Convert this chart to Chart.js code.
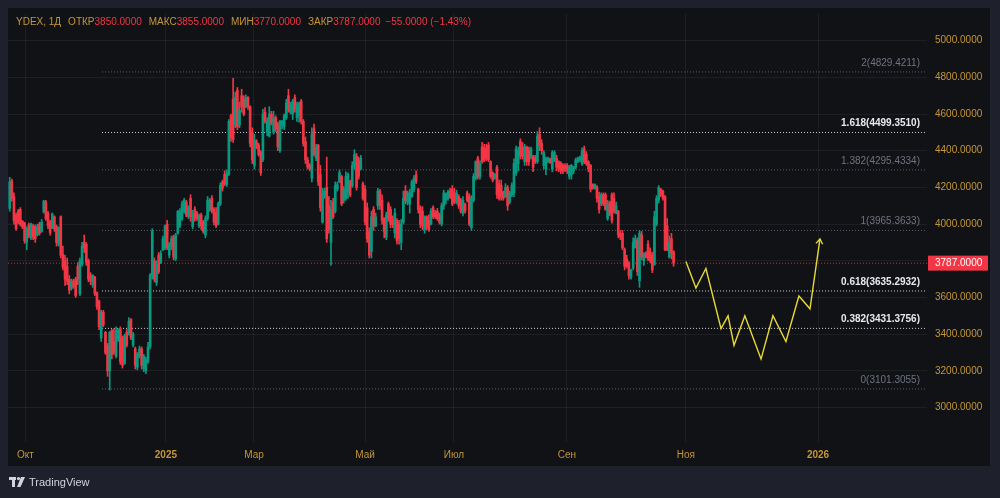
<!DOCTYPE html>
<html>
<head>
<meta charset="utf-8">
<script src="https://cdn.jsdelivr.net/npm/chart.js@4.4.0/dist/chart.umd.min.js"></script>
<style>
html, body { margin: 0; padding: 0; background: #1e212b; }
canvas { display: block; }
</style>
</head>
<body>
<canvas id="chart" width="1000" height="498"></canvas>
<script>
// Дневные свечи YDEX: [open, high, low, close]
const ohlc = [
  [4085,4255,4070,4230],[4235,4245,4125,4140],[4150,4170,4000,4020],[4050,4060,3965,3975],
  [4070,4080,4000,4010],[4080,4090,3990,4000],[4015,4020,3975,3985],[4005,4010,3895,3910],
  [3900,3985,3860,3975],[3995,4005,3925,3935],[3925,4005,3915,4000],[3990,4000,3915,3930],
  [3985,3995,3900,3920],[3940,4000,3935,3985],[4000,4010,3940,3950],[3960,4025,3955,4010],
  [4065,4130,4060,4125],[4120,4130,4020,4030],[4060,4070,3975,3990],[4010,4020,3940,3955],
  [3980,4060,3975,4055],[4040,4045,3960,3975],[3985,3995,3880,3900],[3890,3985,3880,3975],
  [4040,4045,3815,3830],[3835,3880,3750,3765],[3800,3830,3665,3700],[3770,3815,3670,3690],
  [3700,3720,3620,3640],[3650,3700,3640,3690],[3690,3700,3650,3660],[3700,3710,3600,3610],
  [3770,3790,3670,3700],[3620,3815,3610,3800],[3780,3900,3770,3880],[3900,3940,3845,3870],
  [3890,3900,3775,3790],[3800,3810,3685,3700],[3720,3735,3670,3690],[3670,3725,3655,3720],
  [3710,3715,3610,3620],[3625,3630,3535,3550],[3580,3585,3425,3440],[3380,3530,3360,3520],
  [3520,3530,3440,3450],[3410,3415,3290,3300],[3340,3350,3170,3200],[3200,3415,3095,3410],
  [3420,3425,3265,3290],[3360,3430,3290,3300],[3280,3440,3270,3420],[3370,3430,3360,3420],
  [3430,3440,3235,3250],[3380,3390,3215,3230],[3240,3400,3235,3390],[3410,3425,3330,3340],
  [3400,3490,3395,3470],[3480,3485,3370,3380],[3340,3410,3330,3400],[3320,3330,3210,3230],
  [3220,3300,3205,3290],[3280,3335,3270,3320],[3320,3330,3210,3230],[3210,3290,3195,3280],
  [3200,3275,3185,3260],[3250,3355,3240,3330],[3330,3730,3320,3720],[3720,3975,3700,3960],
  [3800,3815,3685,3700],[3680,3800,3665,3780],[3830,3845,3730,3740],[3790,3855,3785,3840],
  [3860,3935,3855,3920],[3870,3995,3860,3990],[4000,4020,3860,3870],[3830,3900,3815,3890],
  [3880,3935,3860,3920],[3930,3940,3805,3820],[3810,3950,3800,3940],[3950,4075,3945,4070],
  [3990,4085,3980,4070],[4030,4125,4020,4110],[4070,4140,4060,4130],[4120,4130,4040,4050],
  [4040,4100,4030,4090],[4140,4160,4015,4040],[3985,4075,3975,4060],[4080,4095,4015,4030],
  [4060,4070,4020,4030],[3990,4055,3980,4045],[4050,4060,3970,3990],[4010,4020,3950,3960],
  [3940,4045,3925,4030],[4030,4150,4020,4130],[4080,4140,4070,4130],[4140,4155,4060,4070],
  [4080,4090,3995,4010],[4060,4090,3980,3990],[4000,4120,3995,4110],[4110,4225,4100,4210],
  [4230,4240,4180,4195],[4270,4290,4210,4220],[4215,4295,4205,4275],[4270,4570,4265,4560],
  [4590,4600,4450,4470],[4680,4795,4445,4460],[4540,4720,4525,4690],[4730,4745,4515,4530],
  [4540,4665,4525,4620],[4700,4735,4610,4640],[4680,4700,4590,4600],[4640,4705,4635,4690],
  [4690,4695,4625,4640],[4640,4645,4420,4440],[4500,4525,4330,4350],[4320,4490,4300,4460],
  [4450,4460,4410,4420],[4430,4440,4370,4380],[4390,4400,4265,4280],[4350,4625,4340,4600],
  [4610,4635,4550,4560],[4500,4580,4480,4560],[4480,4640,4475,4600],[4600,4615,4540,4550],
  [4500,4615,4490,4580],[4580,4590,4505,4520],[4540,4555,4400,4420],[4400,4565,4390,4560],
  [4540,4565,4520,4560],[4530,4600,4515,4590],[4580,4680,4570,4660],[4700,4735,4610,4620],
  [4610,4665,4600,4650],[4600,4680,4570,4670],[4690,4705,4610,4630],[4580,4665,4560,4650],
  [4590,4665,4555,4660],[4670,4680,4545,4560],[4560,4570,4425,4440],[4450,4475,4330,4350],
  [4350,4365,4300,4310],[4320,4330,4290,4300],[4250,4525,4230,4490],[4520,4545,4370,4380],
  [4360,4435,4345,4420],[4430,4435,4210,4230],[4270,4320,4070,4090],[4010,4195,4005,4170],
  [4150,4195,4140,4180],[4200,4365,3900,3920],[4100,4150,3950,3970],[3900,4130,3775,4080],
  [4120,4140,4030,4040],[4070,4230,4060,4210],[4190,4230,4180,4215],[4230,4295,4225,4280],
  [4260,4265,4100,4110],[4130,4205,4115,4190],[4140,4285,4130,4260],[4170,4280,4140,4270],
  [4230,4240,4150,4160],[4210,4340,4200,4320],[4320,4405,4300,4380],[4370,4385,4185,4200],
  [4350,4365,4245,4260],[4300,4375,4295,4360],[4220,4230,4130,4140],[4190,4210,3995,4010],
  [4090,4115,3900,3920],[3960,3980,3815,3830],[3850,4070,3815,4040],[4080,4095,3965,3990],
  [3990,4060,3985,4040],[4100,4195,4080,4180],[4180,4190,4080,4100],[4130,4160,4000,4020],
  [4030,4035,3925,3960],[3930,4065,3915,4050],[4110,4120,4015,4030],[4080,4095,3980,4000],
  [4030,4045,3980,3995],[3950,4085,3925,4060],[4020,4030,3890,3910],[4000,4020,3890,3920],
  [3900,4025,3860,4000],[4010,4180,4000,4140],[4180,4210,4110,4130],[4120,4180,4105,4170],
  [4110,4190,4060,4170],[4150,4240,4145,4230],[4190,4265,4175,4250],[4270,4290,4220,4230],
  [4190,4195,4060,4080],[4090,4100,3980,4000],[4070,4095,3970,3990],[3970,4045,3950,4040],
  [4040,4045,3970,3985],[4020,4050,3960,3970],[4000,4085,3995,4070],[4090,4100,4030,4040],
  [4060,4075,4030,4040],[4070,4085,4020,4030],[4050,4060,4000,4010],[4000,4115,3990,4100],
  [4100,4185,4080,4170],[4130,4170,4110,4160],[4140,4185,4130,4175],[4180,4195,4140,4150],
  [4190,4210,4100,4110],[4170,4195,4110,4120],[4120,4185,4110,4170],[4150,4160,4085,4100],
  [4130,4140,4060,4070],[4060,4150,4045,4130],[4110,4115,4060,4070],[4170,4180,4120,4130],
  [4150,4165,3990,4000],[3980,4155,3965,4140],[4130,4275,4120,4260],[4250,4345,4240,4340],
  [4360,4370,4245,4260],[4260,4345,4245,4330],[4420,4445,4330,4340],[4420,4435,4340,4350],
  [4410,4435,4345,4360],[4430,4445,4340,4350],[4340,4345,4250,4260],[4280,4285,4230,4240],
  [4255,4275,4245,4270],[4310,4320,4140,4160],[4220,4240,4130,4140],[4210,4240,4130,4150],
  [4175,4180,4130,4140],[4150,4220,4145,4200],[4200,4210,4075,4100],[4120,4180,4110,4170],
  [4160,4225,4150,4210],[4170,4355,4150,4330],[4280,4425,4265,4410],[4330,4420,4290,4400],
  [4450,4465,4355,4370],[4420,4445,4355,4370],[4340,4435,4320,4420],[4420,4425,4320,4340],
  [4400,4420,4320,4340],[4370,4420,4355,4410],[4370,4375,4285,4310],[4360,4375,4330,4340],
  [4340,4505,4330,4480],[4490,4525,4400,4430],[4440,4460,4380,4400],[4320,4400,4300,4390],
  [4300,4365,4270,4360],[4340,4365,4335,4360],[4355,4360,4330,4335],[4300,4400,4285,4390],
  [4350,4400,4340,4390],[4360,4375,4290,4310],[4340,4345,4285,4300],[4330,4340,4275,4290],
  [4320,4330,4275,4290],[4320,4330,4285,4300],[4320,4330,4275,4290],[4260,4320,4245,4310],
  [4270,4325,4245,4320],[4290,4315,4275,4310],[4310,4360,4300,4350],[4340,4365,4335,4360],
  [4350,4370,4340,4365],[4330,4415,4320,4400],[4410,4425,4330,4340],[4380,4395,4320,4330],
  [4340,4345,4285,4300],[4320,4325,4175,4190],[4215,4220,4190,4195],[4195,4220,4190,4215],
  [4200,4210,4120,4140],[4150,4175,4060,4080],[4110,4170,4100,4160],[4160,4170,4100,4110],
  [4160,4170,4075,4080],[4030,4130,4020,4110],[4120,4125,4045,4060],[4160,4170,4005,4020],
  [4140,4170,4060,4070],[4060,4120,4055,4100],[4070,4075,3925,3940],[3950,3965,3915,3930],
  [3950,3965,3860,3870],[3860,3870,3750,3770],[3810,3830,3760,3770],[3790,3795,3700,3720],
  [3710,3755,3700,3750],[3760,3925,3750,3900],[3870,3940,3870,3920],[3910,3925,3720,3740],
  [3690,3965,3655,3950],[3940,3960,3805,3820],[3800,3845,3775,3840],[3840,3850,3815,3820],
  [3890,3910,3800,3810],[3850,3870,3790,3800],[3830,3845,3735,3750],[3780,4070,3775,4040],
  [4000,4155,3990,4140],[4130,4210,4115,4200],[4190,4195,4150,4160],[4180,4185,4130,4140],
  [4150,4155,3855,3860],[3990,4030,3855,3860],[3820,3935,3815,3900],[3920,3950,3810,3842],
  [3850,3855,3770,3787]
];

// Шкалы
const priceTicks = [3000, 3200, 3400, 3600, 3800, 4000, 4200, 4400, 4600, 4800, 5000];
const timeTickIdx = [7.4, 73.4, 114.8, 167.0, 208.8, 261.9, 317.8, 379.9];
const timeTickNames = ['Окт', '2025', 'Мар', 'Май', 'Июл', 'Сен', 'Ноя', '2026'];
const xRange = [-0.8, 431.1];
const yRange = [2812, 5145.2];

// Уровни Фибоначчи
const fibNames = ['2', '1.618', '1.382', '1', '0.618', '0.382', '0'];
const fibValues = [4829.4211, 4499.3510, 4295.4334, 3965.3633, 3635.2932, 3431.3756, 3101.3055];
const fibStrong = [false, true, false, false, true, true, false];
const fibStartIdx = 43.4;

// Прогнозная ломаная (жёлтая)
const projIdx = [317.8, 322.5, 327.2, 334.3, 337.6, 340.4, 345.5, 353.1, 358.7, 364.8, 370.9, 376.1, 380.8];
const projPrice = [3796, 3651, 3758, 3430, 3500, 3339, 3500, 3264, 3500, 3360, 3608, 3538, 3919];

const FONT = "'Liberation Sans', Arial, sans-serif";
const UP = '#089981';
const DOWN = '#f23645';
const GOLD = '#c4963a';
const GRID = 'rgba(255,255,255,0.055)';

const candleColors = ohlc.map(c => c[3] >= c[0] ? UP : DOWN);
const last = ohlc[ohlc.length - 1];
const prevClose = ohlc[ohlc.length - 2][3];

// Фон, шапка, подписи уровней, ценник и логотип.
const decorations = {
    id: 'decorations',
    beforeDraw(chart) {
        const ctx = chart.ctx;
        ctx.save();
        ctx.fillStyle = '#1e212b';
        ctx.fillRect(0, 0, chart.width, chart.height);
        ctx.fillStyle = '#111216';
        ctx.fillRect(8, 8, 982, 458);
        ctx.restore();
    },
    afterDatasetsDraw(chart) {
        const ctx = chart.ctx;
        const ys = chart.scales.y;
        const xs = chart.scales.x;
        ctx.save();

        // подписи уровней
        ctx.textAlign = 'right';
        ctx.textBaseline = 'middle';
        fibValues.forEach((v, i) => {
            const y = ys.getPixelForValue(v);
            ctx.font = (fibStrong[i] ? 'bold ' : '') + '10px ' + FONT;
            ctx.fillStyle = fibStrong[i] ? '#e8e9ee' : '#6f7380';
            ctx.fillText(`${fibNames[i]}(${v.toFixed(4)})`, 920, y - 9);
        });

        // стрелка на конце прогноза
        const n = projIdx.length;
        const x1 = xs.getPixelForValue(projIdx[n - 1]), y1 = ys.getPixelForValue(projPrice[n - 1]);
        const x0 = xs.getPixelForValue(projIdx[n - 2]), y0 = ys.getPixelForValue(projPrice[n - 2]);
        const ang = Math.atan2(y1 - y0, x1 - x0);
        ctx.strokeStyle = '#e6d83a';
        ctx.lineWidth = 1.4;
        ctx.beginPath();
        ctx.moveTo(x1 - 6 * Math.cos(ang - 0.6), y1 - 6 * Math.sin(ang - 0.6));
        ctx.lineTo(x1, y1);
        ctx.lineTo(x1 - 6 * Math.cos(ang + 0.6), y1 - 6 * Math.sin(ang + 0.6));
        ctx.stroke();
        ctx.restore();
    },
    afterDraw(chart) {
        const ctx = chart.ctx;
        const ys = chart.scales.y;
        ctx.save();

        // ценник последней цены
        const py = ys.getPixelForValue(last[3]);
        ctx.fillStyle = DOWN;
        ctx.fillRect(928, py - 7.5, 60, 15);
        ctx.fillStyle = '#ffffff';
        ctx.font = '10px ' + FONT;
        ctx.textAlign = 'left';
        ctx.textBaseline = 'middle';
        ctx.fillText(last[3].toFixed(4), 935, py + 0.5);

        // шапка с OHLC
        const chg = last[3] - prevClose;
        const pct = chg / prevClose * 100;
        const fmt = v => (v < 0 ? '\u2212' : '') + Math.abs(v).toFixed(4);
        const parts = [
            ['YDEX, 1Д', GOLD, 7], ['ОТКР', GOLD, 0], [last[0].toFixed(4), DOWN, 7],
            ['МАКС', GOLD, 0], [last[1].toFixed(4), DOWN, 7],
            ['МИН', GOLD, 0], [last[2].toFixed(4), DOWN, 7],
            ['ЗАКР', GOLD, 0], [last[3].toFixed(4), DOWN, 5],
            [`${fmt(chg)} (${pct < 0 ? '\u2212' : ''}${Math.abs(pct).toFixed(2)}%)`, DOWN, 0]
        ];
        let x = 16;
        ctx.font = '10px ' + FONT;
        parts.forEach(([t, col, gap]) => {
            ctx.fillStyle = col;
            ctx.fillText(t, x, 22.5);
            x += ctx.measureText(t).width + gap;
        });

        // логотип TradingView
        ctx.fillStyle = '#d1d4dc';
        ctx.fillRect(9, 477, 7, 3);
        ctx.fillRect(12, 477, 3, 10);
        ctx.beginPath();
        ctx.arc(18.5, 478.6, 1.6, 0, Math.PI * 2);
        ctx.fill();
        ctx.beginPath();
        ctx.moveTo(21, 477); ctx.lineTo(25, 477); ctx.lineTo(20.5, 487); ctx.lineTo(17, 487);
        ctx.closePath();
        ctx.fill();
        ctx.font = '11px ' + FONT;
        ctx.fillText('TradingView', 29, 482.5);
        ctx.restore();
    }
};

const fibDatasets = fibValues.map((v, i) => ({
    type: 'line',
    data: [{ x: fibStartIdx, y: v }, { x: xRange[1], y: v }],
    borderColor: fibStrong[i] ? '#d1d4dc' : '#5d606b',
    borderWidth: 1,
    borderDash: [1, 2],
    pointRadius: 0,
    order: 4
}));

new Chart(document.getElementById('chart'), {
    type: 'bar',
    plugins: [decorations],
    data: {
        datasets: [
            {
                type: 'line',
                data: projIdx.map((x, i) => ({ x: x, y: projPrice[i] })),
                borderColor: '#e6d83a',
                borderWidth: 1.4,
                pointRadius: 0,
                tension: 0,
                order: 0
            },
            {
                data: ohlc.map((c, i) => ({ x: i, y: [c[0], c[3]] })),
                backgroundColor: candleColors,
                grouped: false,
                barPercentage: 1,
                categoryPercentage: 1,
                maxBarThickness: 2,
                order: 1
            },
            {
                data: ohlc.map((c, i) => ({ x: i, y: [c[2], c[1]] })),
                backgroundColor: candleColors,
                grouped: false,
                barPercentage: 1,
                categoryPercentage: 1,
                maxBarThickness: 1,
                order: 2
            },
            {
                type: 'line',
                data: [{ x: xRange[0], y: last[3] }, { x: xRange[1], y: last[3] }],
                borderColor: 'rgba(242,54,69,0.85)',
                borderWidth: 1,
                borderDash: [1, 2],
                pointRadius: 0,
                order: 3
            },
            ...fibDatasets
        ]
    },
    options: {
        responsive: false,
        animation: false,
        devicePixelRatio: 1,
        layout: { padding: { left: 8, top: 8, right: 10, bottom: 32 } },
        plugins: { legend: { display: false }, tooltip: { enabled: false } },
        scales: {
            x: {
                type: 'linear',
                min: xRange[0],
                max: xRange[1],
                offset: false,
                afterBuildTicks: s => { s.ticks = timeTickIdx.map(v => ({ value: v })); },
                afterFit: s => { s.height = 24; },
                grid: { color: GRID, drawTicks: false, offset: false },
                border: { display: false },
                ticks: {
                    autoSkip: false,
                    maxRotation: 0,
                    padding: 7,
                    color: GOLD,
                    font: ctx => ({
                        family: FONT,
                        size: 10,
                        weight: /^\d/.test(timeTickNames[ctx.index] || '') ? 'bold' : 'normal'
                    }),
                    callback: (v, i) => timeTickNames[i]
                }
            },
            y: {
                position: 'right',
                min: yRange[0],
                max: yRange[1],
                afterBuildTicks: s => { s.ticks = priceTicks.map(v => ({ value: v })); },
                afterFit: s => { s.width = 63; },
                grid: { color: GRID, drawTicks: false },
                border: { display: false },
                ticks: {
                    padding: 8,
                    crossAlign: 'near',
                    color: GOLD,
                    font: { family: FONT, size: 10 },
                    callback: v => Number(v).toFixed(4)
                }
            }
        }
    }
});
</script>
</body>
</html>
